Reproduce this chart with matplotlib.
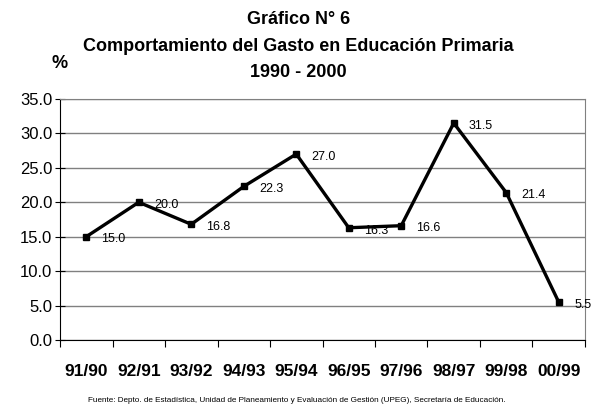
import matplotlib
matplotlib.use('Agg')
import matplotlib.pyplot as plt

plt.rcParams['font.family'] = ['Liberation Sans', 'DejaVu Sans']

# datos del grafico
periodos = ['91/90', '92/91', '93/92', '94/93', '95/94', '96/95', '97/96', '98/97', '99/98', '00/99']
gasto = [15.0, 20.0, 16.8, 22.3, 27.0, 16.3, 16.6, 31.5, 21.4, 5.5]
y_ticks = [0, 5, 10, 15, 20, 25, 30, 35]

fig = plt.figure(figsize=(5.93, 4.07), dpi=100)
ax = fig.add_axes([0.1012, 0.1646, 0.8853, 0.5922])

x = list(range(len(periodos)))
ax.plot(x, gasto, color='black', lw=2.4, marker='s', markersize=5, zorder=3)

for xi, v in zip(x, gasto):
    ax.annotate(f'{v:.1f}', (xi, v), xytext=(11, -2), textcoords='offset points',
                ha='left', va='center', fontsize=9)

ax.set_xlim(-0.5, len(periodos) - 0.5)
ax.set_ylim(0, 35)
ax.set_yticks(y_ticks)
ax.set_yticklabels([f'{t:.1f}' for t in y_ticks], fontsize=12)
ax.set_xticks([i - 0.5 for i in range(len(periodos) + 1)], minor=False)
ax.set_xticklabels([])
ax.set_xticks(x, minor=True)
ax.set_xticklabels(periodos, minor=True, fontsize=12.5, fontweight='bold')
ax.tick_params(axis='x', which='minor', length=0, pad=17)
ax.tick_params(axis='x', which='major', length=5, direction='out', color='black')
ax.tick_params(axis='y', length=7, direction='inout', pad=2)

ax.yaxis.grid(True, color='#808080', lw=1)
ax.set_axisbelow(True)
ax.spines['top'].set_color('#808080')
ax.spines['right'].set_color('#808080')
ax.spines['left'].set_color('black')
ax.spines['bottom'].set_color('black')

fig.text(0.503, 0.951, 'Gráfico N° 6', ha='center', va='center', fontsize=13, fontweight='bold')
fig.text(0.503, 0.885, 'Comportamiento del Gasto en Educación Primaria', ha='center', va='center',
         fontsize=13, fontweight='bold')
fig.text(0.503, 0.823, '1990 - 2000', ha='center', va='center', fontsize=13, fontweight='bold')
fig.text(0.1, 0.845, '%', ha='center', va='center', fontsize=13, fontweight='bold')

fig.text(0.148, 0.017, 'Fuente: Depto. de Estadística, Unidad de Planeamiento y Evaluación de Gestión (UPEG), Secretaría de Educación.',
         ha='left', va='center', fontsize=5.9)

fig.savefig('out.png', dpi=100)
